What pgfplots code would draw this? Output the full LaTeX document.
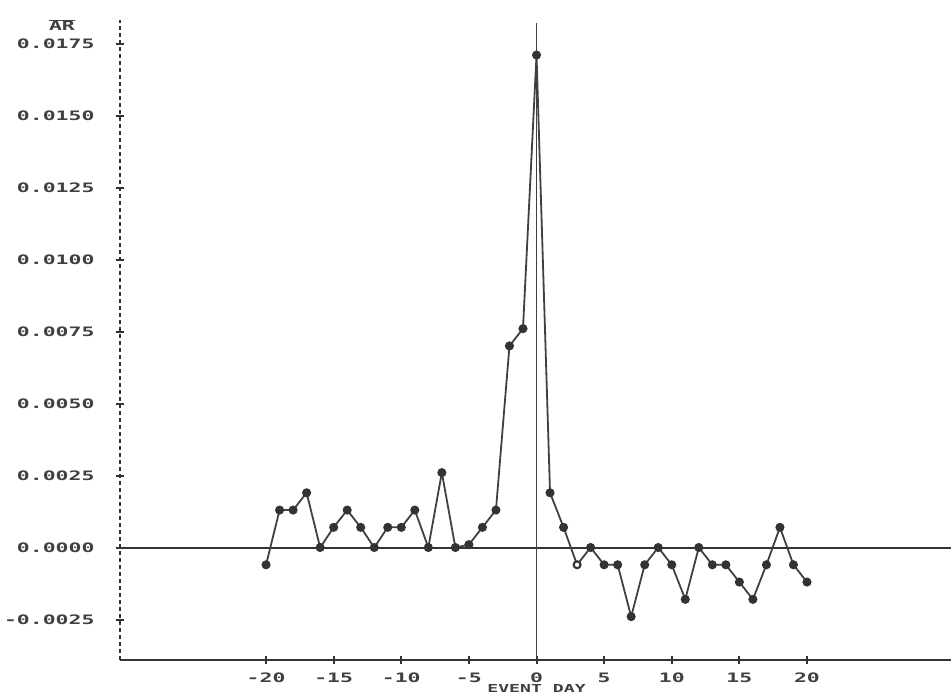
\documentclass[border=0pt]{standalone}
\usepackage{fontspec}
\usepackage{pgfplots}
\pgfplotsset{compat=1.18}
\newfontfamily\pfont[FakeStretch=1.65]{DejaVu Sans Mono}
\newcommand\pf{\pfont\bfseries\fontsize{13}{13}\selectfont}
\newcommand\pfs{\pfont\bfseries\fontsize{11}{11}\selectfont}
\pgfplotstableread{
day ar
-20 -0.0006
-19 0.0013
-18 0.0013
-17 0.0019
-16 0.0000
-15 0.0007
-14 0.0013
-13 0.0007
-12 0.0000
-11 0.0007
-10 0.0007
-9 0.0013
-8 0.0000
-7 0.0026
-6 0.0000
-5 0.0001
-4 0.0007
-3 0.0013
-2 0.0070
-1 0.0076
0 0.0171
1 0.0019
2 0.0007
3 -0.0006
4 0.0000
5 -0.0006
6 -0.0006
7 -0.0024
8 -0.0006
9 0.0000
10 -0.0006
11 -0.0018
12 0.0000
13 -0.0006
14 -0.0006
15 -0.0012
16 -0.0018
17 -0.0006
18 0.0007
19 -0.0006
20 -0.0012
}\ardata
\begin{document}
\begin{tikzpicture}
\useasboundingbox (0,0) rectangle (951pt,695pt);
\begin{axis}[
  at={(120pt,35pt)}, anchor=south west,
  scale only axis, width=831pt, height=639.5pt,
  xmin=-30.8, xmax=30.65, ymin=-0.003906, ymax=0.0183,
  scaled y ticks=false, scaled x ticks=false,
  axis x line=bottom, axis y line=left,
  axis line style={-, line width=2pt, draw=black!80},
  y axis line style={dash pattern=on 3.5pt off 3.5pt, line width=2.6pt},
  xtick={-20,-15,-10,-5,0,5,10,15,20},
  xticklabels={-20,-15,-10,-5,0,5,10,15,20},
  ytick={-0.0025,0,0.0025,0.005,0.0075,0.01,0.0125,0.015,0.0175},
  yticklabels={-0.0025,0.0000,0.0025,0.0050,0.0075,0.0100,0.0125,0.0150,0.0175},
  tick align=center, major tick length=8pt,
  tick style={line width=2pt, black!80},
  ticklabel style={font=\pf, text=black!75},
  xticklabel style={yshift=-5pt},
  yticklabel style={xshift=-18pt},
  clip=false,
]
\addplot[line width=2pt, black!80] coordinates {(-30.8,0) (30.65,0)};
\addplot[line width=1.8pt, black!75] coordinates {(0,-0.003906) (0,0.0182)};
\addplot[line width=1.8pt, black!75, mark=*, mark size=3.6pt, mark options={fill=black!80, draw=black!80}] table[x=day, y=ar] {\ardata};
\addplot[only marks, mark=*, mark size=3.2pt, mark options={fill=white, draw=black!80, line width=1.6pt}] coordinates {(3,-0.0006)};
\node[font=\pfs, text=black!75, inner sep=0pt] at (axis cs:0,-0.003906) [yshift=-28pt] {EVENT DAY};
\end{axis}
\node[font=\pf, text=black!75] at (62pt,670pt) {$\overline{\hbox{\pf AR}}$};
\end{tikzpicture}
\end{document}
